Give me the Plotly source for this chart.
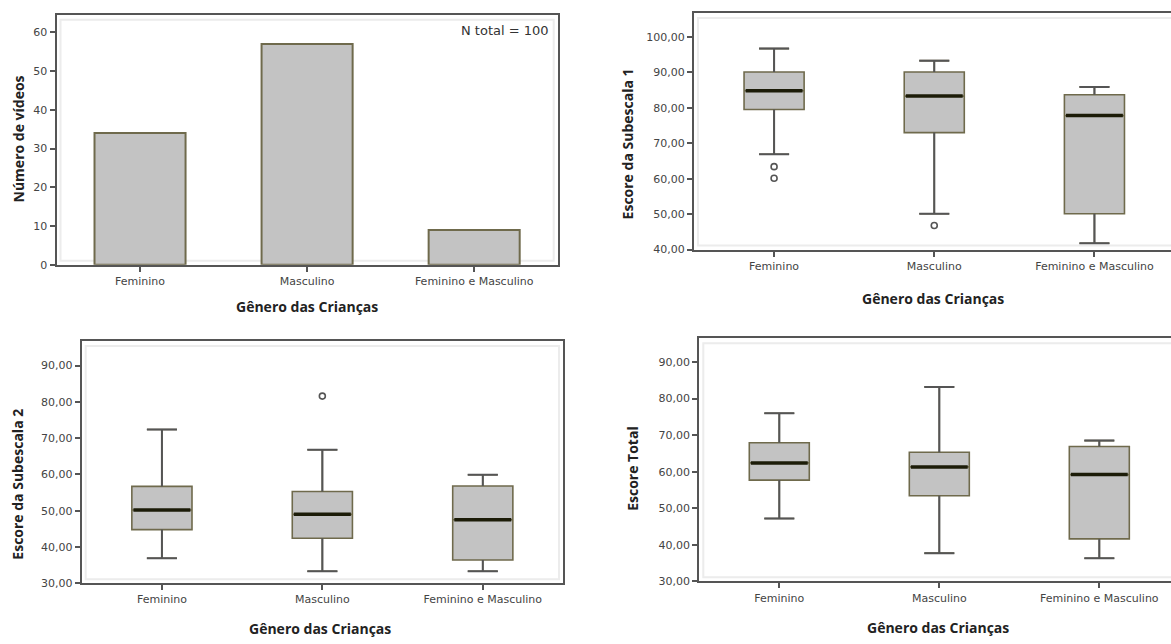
import plotly.graph_objects as go

# ---- data -------------------------------------------------------------
categorias = ["Feminino", "Masculino", "Feminino e Masculino"]

# number of videos per children's gender
n_videos = [34, 57, 9]

# Escore da Subescala 1 (box statistics per category)
s1_q1 = [79.5, 73.0, 50.1]
s1_med = [84.8, 83.3, 77.8]
s1_q3 = [90.1, 90.1, 83.7]
s1_low = [66.9, 50.1, 41.8]
s1_up = [96.7, 93.3, 85.9]
s1_out_cat = ["Feminino", "Feminino", "Masculino"]
s1_out_val = [63.4, 60.1, 46.8]

# Escore da Subescala 2
s2_q1 = [44.8, 42.4, 36.4]
s2_med = [50.2, 49.0, 47.5]
s2_q3 = [56.7, 55.3, 56.8]
s2_low = [36.9, 33.3, 33.3]
s2_up = [72.4, 66.8, 59.9]
s2_out_cat = ["Masculino"]
s2_out_val = [81.6]

# Escore Total
t_q1 = [57.7, 53.4, 41.6]
t_med = [62.4, 61.3, 59.2]
t_q3 = [67.9, 65.3, 66.9]
t_low = [47.2, 37.7, 36.3]
t_up = [76.0, 83.2, 68.5]
t_out_cat = []
t_out_val = []

ticks_bar = [0, 10, 20, 30, 40, 50, 60]
ticks_s1 = [40, 50, 60, 70, 80, 90, 100]
ticks_s2 = [30, 40, 50, 60, 70, 80, 90]
ticks_t = [30, 40, 50, 60, 70, 80, 90]

# ---- styling -----------------------------------------------------------
W, H = 1171, 644
FILL = "#c3c3c3"
OLIVE = "#6f6a4c"
WHISK = "#555555"
MED = "#1c1c08"
AXIS = "#555555"
TICKFONT = dict(family="DejaVu Sans", size=11, color="#444444")
TITLEFONT = dict(family="Open Sans", size=14, color="#222222", weight="bold")
BOXW = 0.375
CAPW = BOXW * 0.5

pos = list(range(len(categorias)))


def fmt(v):
    return f"{v:.2f}".replace(".", ",")


def xdom(a, b):
    return [a / W, b / W]


def ydom(top, bottom):
    return [1 - bottom / H, 1 - top / H]


fig = go.Figure()


def add_boxes(q1, med, q3, low, up, out_cat, out_val, xa, ya):
    fig.add_trace(go.Box(
        x=pos, q1=q1, median=med, q3=q3, lowerfence=low, upperfence=up,
        width=BOXW, whiskerwidth=0.5, boxpoints=False,
        fillcolor=FILL, line=dict(color=OLIVE, width=1.6),
        xaxis=xa, yaxis=ya, showlegend=False, hoverinfo="skip",
    ))
    # whiskers in gray over the box trace's own whiskers
    wx, wy = [], []
    for i, (a, b, c, d) in enumerate(zip(low, q1, q3, up)):
        wx += [i, i, None, i - CAPW / 2, i + CAPW / 2, None,
               i, i, None, i - CAPW / 2, i + CAPW / 2, None]
        wy += [c, d, None, d, d, None, b, a, None, a, a, None]
    fig.add_trace(go.Scatter(x=wx, y=wy, mode="lines",
                             line=dict(color=WHISK, width=2),
                             xaxis=xa, yaxis=ya, showlegend=False,
                             hoverinfo="skip"))
    # heavy median bar
    mx, my = [], []
    for i, m in enumerate(med):
        mx += [i - BOXW / 2 + 0.01, i + BOXW / 2 - 0.01, None]
        my += [m, m, None]
    fig.add_trace(go.Scatter(x=mx, y=my, mode="lines",
                             line=dict(color=MED, width=3.5),
                             xaxis=xa, yaxis=ya, showlegend=False,
                             hoverinfo="skip"))
    if out_val:
        fig.add_trace(go.Scatter(
            x=[categorias.index(c) for c in out_cat], y=out_val,
            mode="markers",
            marker=dict(symbol="circle-open", size=6,
                        line=dict(color=WHISK, width=1.6), color=WHISK),
            xaxis=xa, yaxis=ya, showlegend=False, hoverinfo="skip"))


# panel 1: bar chart
fig.add_trace(go.Bar(
    x=pos, y=n_videos, width=0.545,
    marker=dict(color=FILL, line=dict(color=OLIVE, width=2)),
    xaxis="x", yaxis="y", showlegend=False, hoverinfo="skip",
))

add_boxes(s1_q1, s1_med, s1_q3, s1_low, s1_up, s1_out_cat, s1_out_val, "x2", "y2")
add_boxes(s2_q1, s2_med, s2_q3, s2_low, s2_up, s2_out_cat, s2_out_val, "x3", "y3")
add_boxes(t_q1, t_med, t_q3, t_low, t_up, t_out_cat, t_out_val, "x4", "y4")

# panel geometry (pixels): left, right, top, bottom, x range end, y range
panels = [
    dict(l=56.5, r=557.7, t=15.0, b=267.7, xend=2.5, yr=[0, 64.5],
         tv=ticks_bar, tt=[str(v) for v in ticks_bar]),
    dict(l=694.0, r=W, t=13.3, b=252.3, xend=2.478, yr=[40, 106.7],
         tv=ticks_s1, tt=[fmt(v) for v in ticks_s1]),
    dict(l=81.7, r=563.0, t=344.7, b=589.7, xend=2.5, yr=[30, 96.8],
         tv=ticks_s2, tt=[fmt(v) for v in ticks_s2]),
    dict(l=699.3, r=W, t=342.0, b=587.7, xend=2.448, yr=[30, 96.5],
         tv=ticks_t, tt=[fmt(v) for v in ticks_t]),
]

layout = dict(
    width=W, height=H, margin=dict(l=0, r=0, t=0, b=0),
    paper_bgcolor="white", plot_bgcolor="white", showlegend=False,
)

shapes = []
for k, p in enumerate(panels, start=1):
    sfx = "" if k == 1 else str(k)
    clipped = p["r"] >= W  # frame runs past the page edge: no right border
    common = dict(showline=True, linecolor=AXIS, linewidth=2,
                  ticks="outside", ticklen=5, tickwidth=1.5, tickcolor=AXIS,
                  showgrid=False, zeroline=False, tickfont=TICKFONT)
    layout["xaxis" + sfx] = dict(
        domain=xdom(p["l"], p["r"]), anchor="y" + sfx, mirror=True,
        range=[-0.5, p["xend"]], tickvals=pos, ticktext=categorias, **common)
    layout["yaxis" + sfx] = dict(
        domain=ydom(p["t"], p["b"]), anchor="x" + sfx, mirror=not clipped,
        range=p["yr"], tickvals=p["tv"], ticktext=p["tt"], **common)
    # faint inner frame
    wpx, hpx = p["r"] - p["l"], p["b"] - p["t"]
    x1 = 1.0 if clipped else 1 - 4 / wpx
    shapes.append(dict(type="rect", xref="x" + sfx + " domain",
                       yref="y" + sfx + " domain",
                       x0=4 / wpx, x1=x1 + (0.01 if clipped else 0),
                       y0=4 / hpx, y1=1 - 5 / hpx,
                       line=dict(color="#ececec", width=2), layer="below"))

layout["shapes"] = shapes


def ann(text, x, y, angle=0, font=TITLEFONT, xanchor="center"):
    return dict(text=text, x=x / W, y=1 - y / H, xref="paper", yref="paper",
                showarrow=False, textangle=angle, font=font,
                xanchor=xanchor, yanchor="middle")


xt = "Gênero das Crianças"
layout["annotations"] = [
    ann(xt, 307, 310),
    ann(xt, 933, 302),
    ann(xt, 320, 635),
    ann(xt, 938, 634),
    ann("Número de vídeos", 18, 141, -90),
    ann("Escore da Subescala 1", 627, 146, -90),
    ann("Escore da Subescala 2", 18, 490, -90),
    ann("Escore Total", 633, 474, -90),
    ann(f"N total = {sum(n_videos)}", 551, 31, 0,
        dict(family="DejaVu Sans", size=13, color="#333333"), "right"),
]

fig.update_layout(**layout)
fig.write_html("out.html")
